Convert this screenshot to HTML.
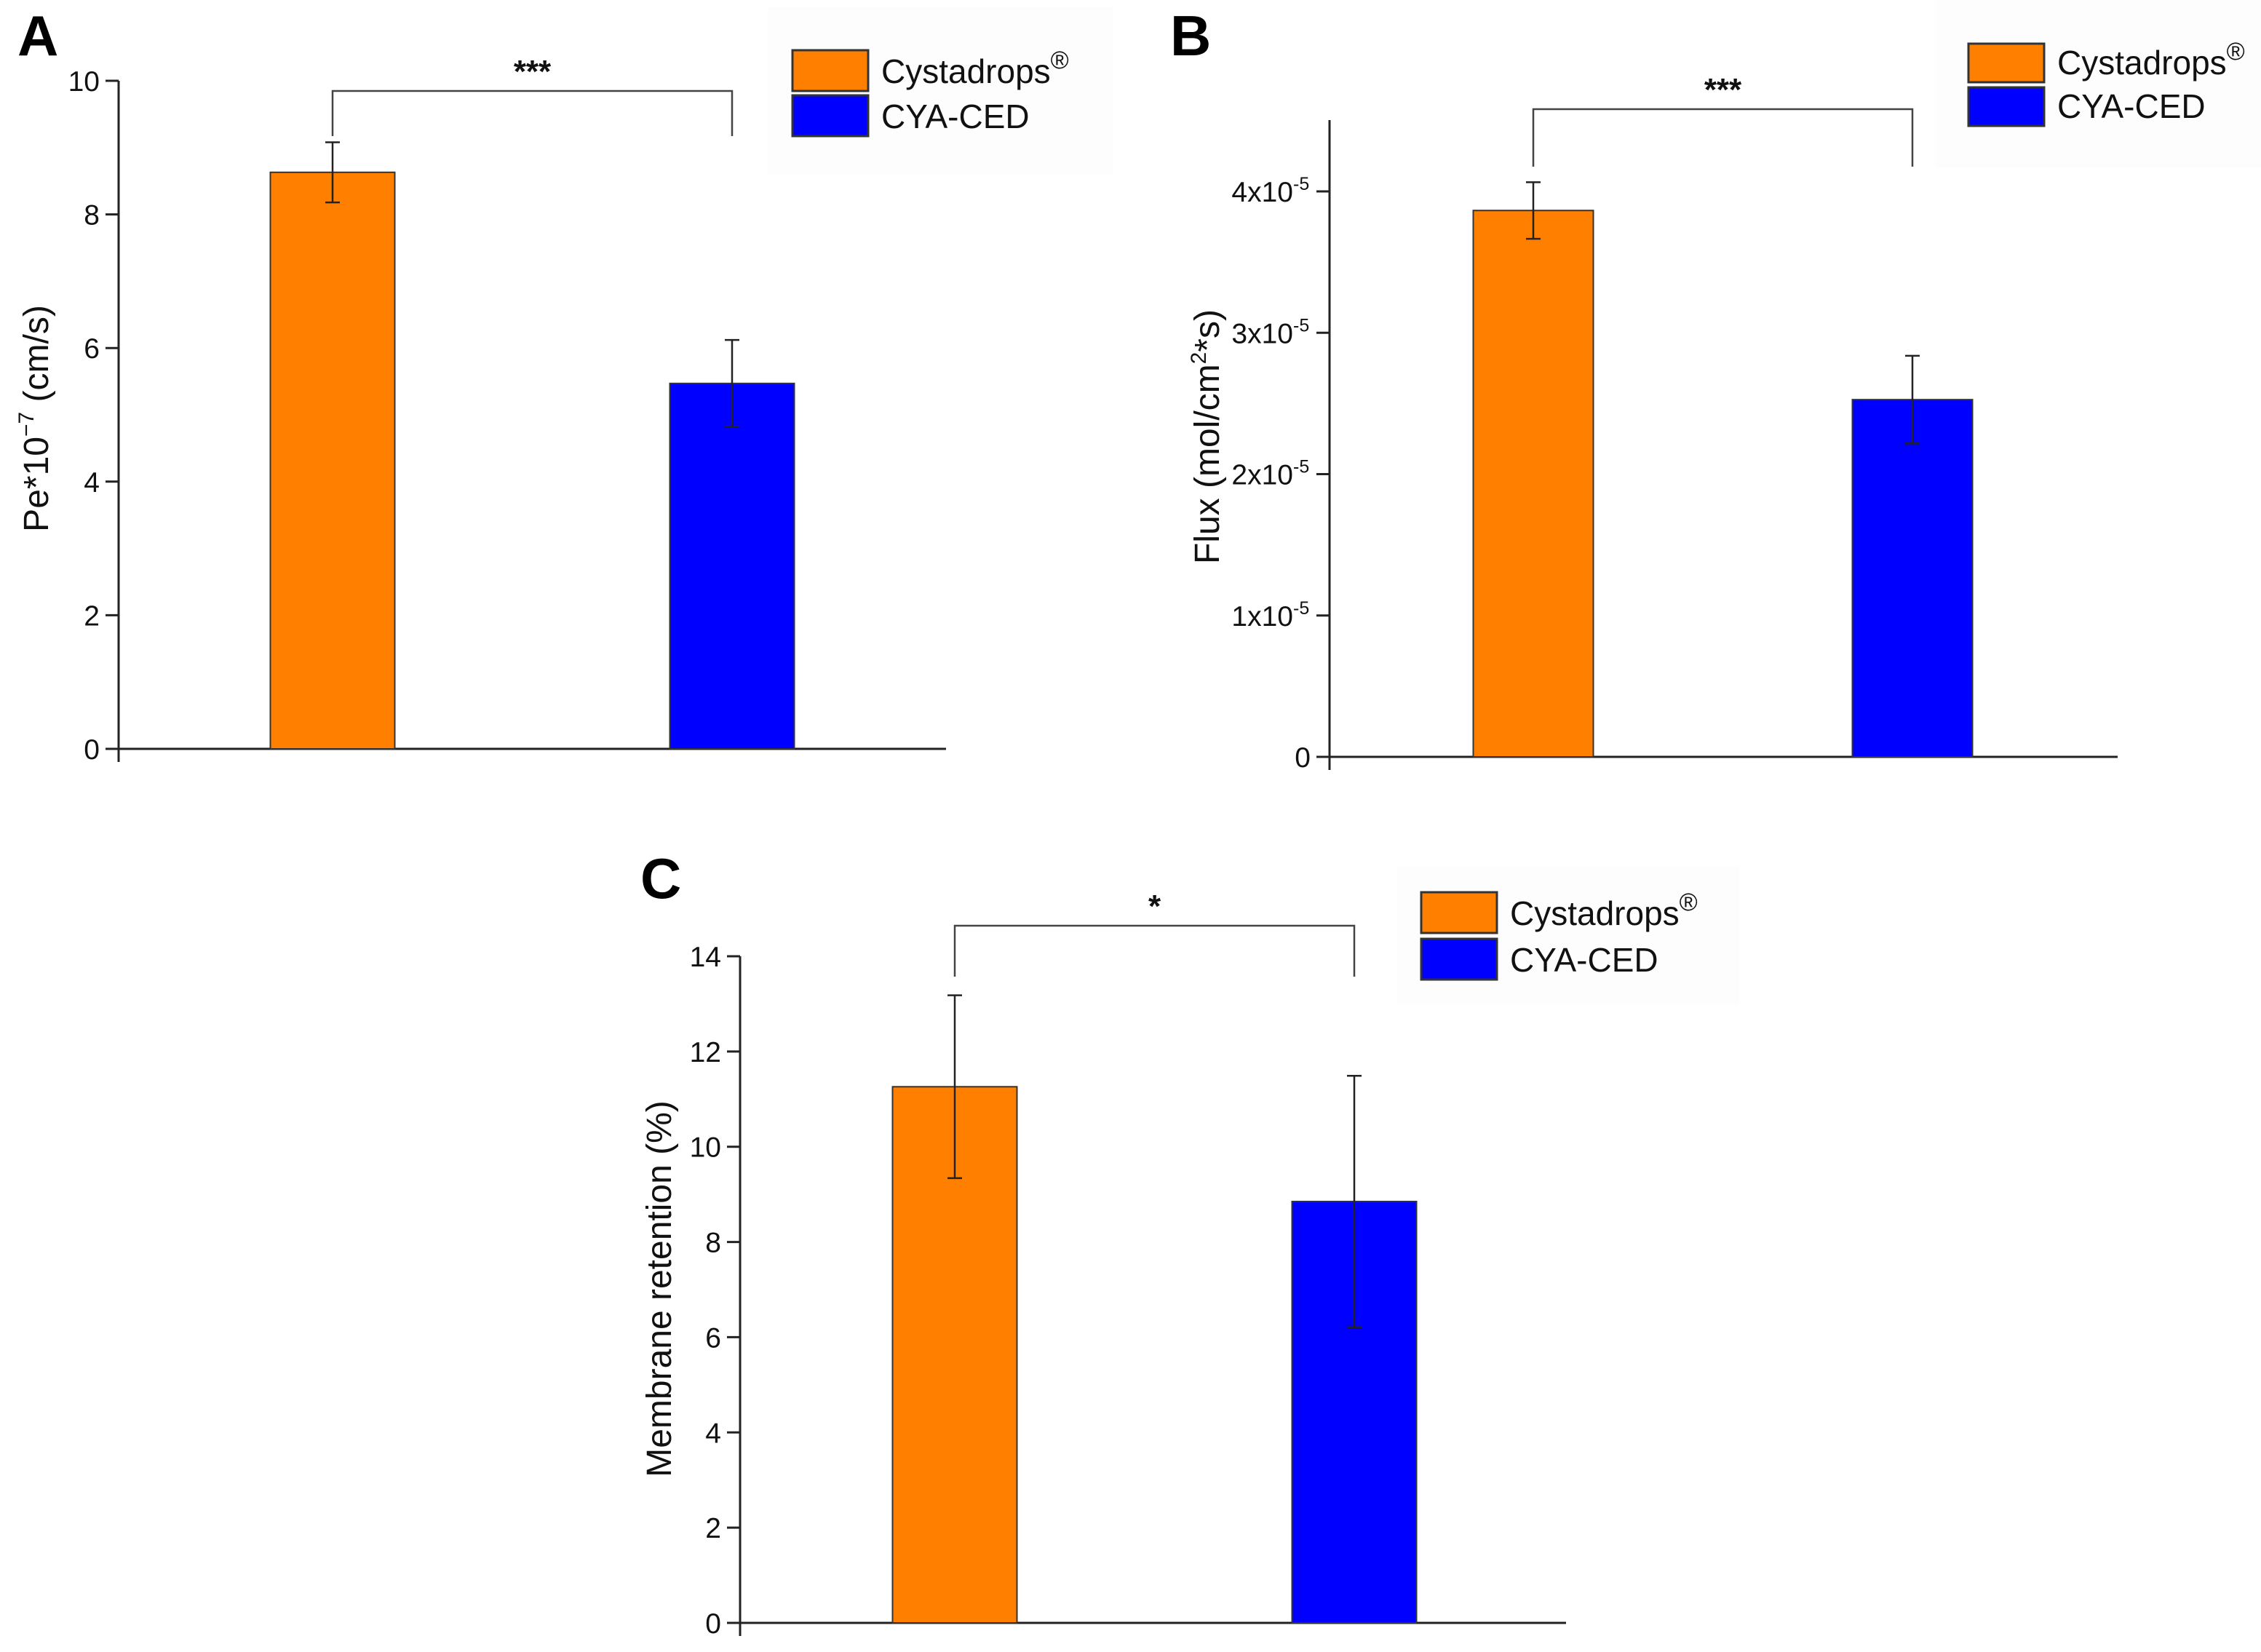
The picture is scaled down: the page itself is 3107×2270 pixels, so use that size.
<!DOCTYPE html>
<html><head><meta charset="utf-8"><style>
html,body{margin:0;padding:0;background:#fff;}
svg{display:block;font-family:"Liberation Sans",Arial,sans-serif;}
</style></head>
<body>
<svg id="fig" width="3107" height="2270" viewBox="0 0 3107 2270" xmlns="http://www.w3.org/2000/svg"></svg>
<script>
// ---- data ----
const groups = ["Cystadrops®", "CYA-CED"];
const colors = ["#ff8000", "#0000ff"];
const aValues = [8.63, 5.47];
const aErrors = [0.45, 0.65];
const aTicks = [0, 2, 4, 6, 8, 10];
const aTickLabels = ["0", "2", "4", "6", "8", "10"];
const bValues = [3.865, 2.527];
const bErrors = [0.2, 0.31];
const bTicks = [0, 1, 2, 3, 4];
const bTickLabels = ["0", "1x10", "2x10", "3x10", "4x10"];
const cValues = [11.26, 8.85];
const cErrors = [1.92, 2.64];
const cTicks = [0, 2, 4, 6, 8, 10, 12, 14];
const cTickLabels = ["0", "2", "4", "6", "8", "10", "12", "14"];
const sigA = "***", sigB = "***", sigC = "*";

const NS = "http://www.w3.org/2000/svg";
const svg = document.getElementById("fig");
function mk(tag, attrs, parent) {
  const e = document.createElementNS(NS, tag);
  for (const k in attrs) e.setAttribute(k, attrs[k]);
  (parent || svg).appendChild(e);
  return e;
}

function panel(cfg) {
  const g = mk("g", {});
  
  
  const y = v => cfg.y0 - (v - cfg.vmin) * (cfg.y0 - cfg.yTop) / (cfg.vTop - cfg.vmin);
  const lbg = mk("rect", {x: cfg.lbg[0], y: cfg.lbg[1], width: cfg.lbg[2], height: cfg.lbg[3], fill: "#fdfdfd"}, g);
  
  
  const L = mk("text", {x: cfg.letter[0], y: cfg.letter[1], "font-size": 78, "font-weight": "bold", fill: "#000"}, g);
  L.textContent = cfg.letterText;
  
  
  const ya = mk("line", {x1: cfg.ax, y1: cfg.axTop, x2: cfg.ax, y2: cfg.y0 + 18, stroke: "#222", "stroke-width": 3}, g);
  
  
  const xa = mk("line", {x1: cfg.ax - 18, y1: cfg.y0, x2: cfg.axRight, y2: cfg.y0, stroke: "#222", "stroke-width": 3}, g);
  
  
  cfg.ticks.forEach((t, i) => {
    const ty = y(t);
    const tl = mk("line", {x1: cfg.ax - 18, y1: ty, x2: cfg.ax, y2: ty, stroke: "#222", "stroke-width": 3}, g);
    
    
    const lab = mk("text", {x: cfg.ax - 26, y: ty + 14, "font-size": 39, "text-anchor": "end", fill: "#111"}, g);
    
    
    if (cfg.sci && t !== 0) {
      lab.setAttribute("x", cfg.ax - 50);
      lab.textContent = cfg.tickLabels[i];
      const sup = mk("text", {x: cfg.ax - 50, y: ty - 2, "font-size": 25, fill: "#111"}, g);
      sup.textContent = "-5";
      
      
    } else {
      lab.textContent = cfg.tickLabels[i];
    }
  });
  const yt = mk("text", {x: 0, y: 0, "font-size": 48, "text-anchor": "middle", fill: "#111",
    transform: `translate(${cfg.ytitle[0]},${cfg.ytitle[1]}) rotate(-90)`}, g);
  
  
  yt.innerHTML = cfg.ytitleHTML;
  cfg.values.forEach((v, i) => {
    const cx = cfg.barCenters[i];
    const b = mk("rect", {x: cx - cfg.barW / 2, y: y(v), width: cfg.barW, height: cfg.y0 - y(v), fill: colors[i], stroke: "#333", "stroke-width": 2}, g);
    
    
    const e = cfg.errors[i];
    const eg = mk("g", {stroke: "#222", "stroke-width": 2.5}, g);
    
    
    mk("line", {x1: cx, y1: y(v + e), x2: cx, y2: y(v - e)}, eg);
    mk("line", {x1: cx - 10, y1: y(v + e), x2: cx + 10, y2: y(v + e)}, eg);
    mk("line", {x1: cx - 10, y1: y(v - e), x2: cx + 10, y2: y(v - e)}, eg);
  });
  const br = mk("polyline", {points: `${cfg.barCenters[0]},${cfg.brBottom} ${cfg.barCenters[0]},${cfg.brY} ${cfg.barCenters[1]},${cfg.brY} ${cfg.barCenters[1]},${cfg.brBottom}`, fill: "none", stroke: "#444", "stroke-width": 2.5}, g);
  
  
  const st = mk("text", {x: (cfg.barCenters[0] + cfg.barCenters[1]) / 2, y: cfg.brY - 12, "font-size": 44, "font-weight": "bold", "text-anchor": "middle", fill: "#111"}, g);
  st.textContent = cfg.sig;
  
  
  groups.forEach((name, i) => {
    const lg = mk("g", {}, g);
    
    
    mk("rect", {x: cfg.leg[0], y: cfg.leg[1] + i * cfg.legStep, width: 104, height: cfg.legH, fill: colors[i], stroke: "#333", "stroke-width": 3}, lg);
    const t = mk("text", {x: cfg.leg[0] + 122, y: cfg.leg[1] + i * cfg.legStep + cfg.legH - 11, "font-size": 46, fill: "#111"}, lg);
    if (i === 0) t.innerHTML = 'Cystadrops<tspan font-size="34" dy="-20">®</tspan>';
    else t.textContent = name;
  });
}

panel({name: "panel-a", letterText: "A", letter: [24, 76], vmin: 0, vTop: 10, y0: 1029, yTop: 111,
  ax: 163, axTop: 111, axRight: 1300, ticks: aTicks, tickLabels: aTickLabels, sci: false,
  ytitle: [66, 575], ytitleHTML: 'Pe*10<tspan font-size="30" dy="-20">−7</tspan><tspan dy="20"> (cm/s)</tspan>',
  values: aValues, errors: aErrors, barCenters: [457, 1006], barW: 171,
  brY: 125, brBottom: 187, sig: sigA, leg: [1089, 69], legStep: 62, legH: 56, lbg: [1055, 10, 475, 230]});

panel({name: "panel-b", letterText: "B", letter: [1608, 76], vmin: 0, vTop: 4, y0: 1040, yTop: 263,
  ax: 1827, axTop: 165, axRight: 2910, ticks: bTicks, tickLabels: bTickLabels, sci: true,
  ytitle: [1675, 600], ytitleHTML: 'Flux (mol/cm<tspan font-size="30" dy="-18">2</tspan><tspan dy="18">*s)</tspan>',
  values: bValues, errors: bErrors, barCenters: [2107, 2628], barW: 165,
  brY: 150, brBottom: 229, sig: sigB, leg: [2705, 60], legStep: 60, legH: 53, lbg: [2660, 0, 447, 230]});

panel({name: "panel-c", letterText: "C", letter: [880, 1234], vmin: 0, vTop: 14, y0: 2230, yTop: 1314,
  ax: 1017, axTop: 1314, axRight: 2152, ticks: cTicks, tickLabels: cTickLabels, sci: false,
  ytitle: [922, 1771], ytitleHTML: 'Membrane retention (%)',
  values: cValues, errors: cErrors, barCenters: [1312, 1861], barW: 171,
  brY: 1272, brBottom: 1342, sig: sigC, leg: [1953, 1226], legStep: 64, legH: 56, lbg: [1920, 1190, 470, 190]});
</script>
</body></html>
